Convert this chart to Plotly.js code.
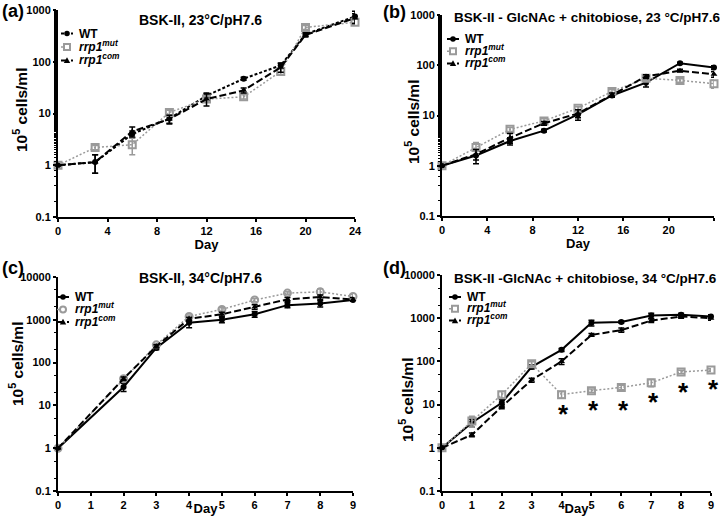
<!DOCTYPE html>
<html><head><meta charset="utf-8">
<script src="https://cdn.plot.ly/plotly-3.0.1.min.js"></script>
<style>html,body{margin:0;padding:0;background:#fff}#chart{width:720px;height:516px}</style>
</head><body><div id="chart"></div>
<script>
// ---- Data ----
const seriesNames = ["WT", "<i>rrp1</i><sup><i>mut</i></sup>", "<i>rrp1</i><sup><i>com</i></sup>"];

const daysA = [0, 3, 6, 9, 12, 15, 18, 20, 24];
const aWT  = [1, 1.15, 4, 8, 22, 47, 85, 340, 750];
const aMut = [1, 2.2, 2.5, 10.5, 19, 21, 65, 460, 580];
const aCom = [1, 1.15, 4.5, 7.8, 19, 28, 78, 330, 700];
const aWTErr  = [0, 0.45, 0.6, 1.5, 3, 3, 10, 30, 200];
const aMutErr = [0, 0.2, 0.9, 1, 2, 2, 8, 40, 60];
const aComErr = [0, 0.45, 1, 1.5, 5, 3, 15, 30, 150];

const daysB = [0, 3, 6, 9, 12, 15, 18, 21, 24];
const bWT  = [1, 1.6, 3.1, 5, 10.5, 25, 45, 110, 90];
const bMut = [1, 2.3, 5.3, 7.8, 14, 30, 55, 50, 43];
const bCom = [1, 1.7, 3.6, 7, 11, 26, 60, 78, 66];
const bWTErr  = [0, 0.5, 0.5, 0.3, 2.5, 2, 8, 5, 8];
const bMutErr = [0, 0.6, 0.5, 0.8, 1, 3, 5, 4, 8];
const bComErr = [0, 0.4, 0.8, 0.6, 2, 2, 5, 5, 8];

const daysC = [0, 2, 3, 4, 5, 6, 7, 8, 9];
const cWT  = [1, 27, 220, 850, 1000, 1350, 2200, 2400, 2900];
const cMut = [1, 42, 260, 1200, 1750, 2900, 4200, 4500, 3500];
const cCom = [1, 42, 240, 1050, 1350, 2000, 3000, 3400, 3000];
const cWTErr  = [0, 6, 20, 200, 150, 200, 300, 400, 200];
const cMutErr = [0, 4, 20, 100, 150, 250, 300, 800, 400];
const cComErr = [0, 4, 20, 100, 150, 250, 300, 400, 300];

const daysD = [0, 1, 2, 3, 4, 5, 6, 7, 8, 9];
const dWT  = [1, 3.8, 11, 75, 185, 780, 820, 1150, 1200, 1100];
const dMut = [1, 4.2, 17, 88, 17, 21, 25, 32, 57, 63];
const dCom = [1, 2, 9, 37, 100, 410, 530, 880, 1100, 1000];
const dWTErr  = [0, 0.8, 2, 8, 15, 120, 50, 150, 100, 100];
const dMutErr = [0, 1.2, 3, 10, 3, 2, 3, 6, 5, 5];
const dComErr = [0, 0.2, 1, 4, 15, 30, 60, 80, 100, 100];

const starDays = [4, 5, 6, 7, 8, 9];
const starY    = [8.4, 10.5, 10.5, 15.6, 27, 31.6];

const ticksA = [0, 4, 8, 12, 16, 20, 24];
const ticksC = [0, 1, 2, 3, 4, 5, 6, 7, 8, 9];
const yTicks4 = [0.1, 1, 10, 100, 1000];
const yTicks5 = [0.1, 1, 10, 100, 1000, 10000];

const panelLabels = ["(a)", "(b)", "(c)", "(d)"];
const titles = ["BSK-II, 23\u00B0C/pH7.6", "BSK-II - GlcNAc + chitobiose, 23 \u00B0C/pH7.6",
                "BSK-II, 34\u00B0C/pH7.6", "BSK-II -GlcNAc + chitobiose, 34 \u00B0C/pH7.6"];
const yTitle = "10<sup>5</sup> cells/ml";

// ---- Styles ----
const FONT = "Liberation Sans, Arial, sans-serif";
const GREY = "#9a9a9a";
const W = 720, H = 516;
const WT_DASH = ["3px,2px", "solid", "solid", "solid"];
const MUT_DASH = "2px,2px", COM_DASH = "7px,3px";

function tr(x, y, err, kind, panel) {
  const ax = panel === 0 ? "" : panel + 1;
  let color = "#000", dash = "solid", width = 2, marker;
  if (kind === 0) { dash = WT_DASH[panel]; marker = {symbol: "circle", size: 6, color: "#000"}; }
  if (kind === 1) { color = GREY; dash = MUT_DASH; width = 1.5;
    marker = {symbol: panel === 2 ? "circle-open" : "square-open", size: 7, color: GREY, line: {width: 2, color: GREY}}; }
  if (kind === 2) { dash = COM_DASH; marker = {symbol: "triangle-up", size: 6, color: "#000"}; }
  return {
    x: x, y: y, type: "scatter", mode: "lines+markers", name: seriesNames[kind], showlegend: false,
    xaxis: "x" + ax, yaxis: "y" + ax, cliponaxis: false,
    line: {color: color, dash: dash, width: width}, marker: marker,
    error_y: {type: "data", array: err, visible: true, color: color, thickness: 1.5, width: 3}
  };
}

const data = [
  tr(daysA, aWT, aWTErr, 0, 0), tr(daysA, aMut, aMutErr, 1, 0), tr(daysA, aCom, aComErr, 2, 0),
  tr(daysB, bWT, bWTErr, 0, 1), tr(daysB, bMut, bMutErr, 1, 1), tr(daysB, bCom, bComErr, 2, 1),
  tr(daysC, cWT, cWTErr, 0, 2), tr(daysC, cMut, cMutErr, 1, 2), tr(daysC, cCom, cComErr, 2, 2),
  tr(daysD, dWT, dWTErr, 0, 3), tr(daysD, dMut, dMutErr, 1, 3), tr(daysD, dCom, dComErr, 2, 3)
];

function xax(domain, ticks, range, anchor) {
  return {domain: domain, range: range, anchor: anchor, showline: true, linewidth: 2, linecolor: "#000",
    ticks: "outside", ticklen: 3, tickwidth: 2, tickcolor: "#000", tickvals: ticks, ticktext: ticks.map(String),
    showgrid: false, zeroline: false, tickfont: {family: FONT, size: 11, color: "#000", weight: "bold"},
    title: {text: "<b>Day</b>", font: {family: FONT, size: 13, color: "#000"}, standoff: 0}};
}
function yax(domain, ticks, anchor) {
  return {domain: domain, type: "log", range: [-1, Math.log10(ticks[ticks.length - 1])], anchor: anchor,
    showline: true, linewidth: 2, linecolor: "#000", ticks: "outside", ticklen: 3, tickwidth: 2, tickcolor: "#000",
    tickvals: ticks, ticktext: ticks.map(String), showgrid: false, zeroline: false,
    minor: {ticks: "outside", ticklen: 2, tickwidth: 1, tickcolor: "#000", showgrid: false},
    tickfont: {family: FONT, size: 11, color: "#000", weight: "bold"}};
}

const px = (a, b) => [a / W, b / W];
const py = (top, bot) => [1 - bot / H, 1 - top / H];
const PX = v => v / W, PY = v => 1 - v / H;

// placement of decorations (pixels)
const labelPos = [[0, 11], [381, 12], [0, 268], [381, 268]];
const titlePos = [[200, 20], [587, 18], [200, 278], [585, 278]];
const titleSize = [14, 13.5, 14, 13.5];
const yTitlePos = [[20, 110], [412, 122], [16, 364], [406, 400]];
const legendPos = [[61, 33.5], [447, 39], [57, 297], [449, 297]];
const legendGap = [13.5, 12.2, 12.5, 11.8];
const LEG_LEN = 12;

const annotations = [];
const shapes = [];
const ann = (text, x, y, size, extra) => annotations.push(Object.assign({text: text, x: x, y: y,
  xref: "paper", yref: "paper", xanchor: "center", yanchor: "middle", showarrow: false,
  font: {family: FONT, size: size, color: "#000"}}, extra || {}));

for (let p = 0; p < 4; p++) {
  ann("<b>" + panelLabels[p] + "</b>", PX(labelPos[p][0]), PY(labelPos[p][1]), 18, {xanchor: "left"});
  ann("<b>" + titles[p] + "</b>", PX(titlePos[p][0]), PY(titlePos[p][1]), titleSize[p]);
  ann("<b>" + yTitle + "</b>", PX(yTitlePos[p][0]), PY(yTitlePos[p][1]), 15.5, {textangle: -90});
  // legend
  for (let k = 0; k < 3; k++) {
    const x0 = legendPos[p][0], y = legendPos[p][1] + k * legendGap[p];
    const color = k === 1 ? GREY : "#000";
    const dash = k === 0 ? WT_DASH[p] : (k === 1 ? MUT_DASH : COM_DASH);
    shapes.push({type: "line", xref: "paper", yref: "paper", x0: PX(x0), x1: PX(x0 + LEG_LEN), y0: PY(y), y1: PY(y),
      line: {color: color, width: k === 1 ? 1.5 : 2, dash: dash}});
    const cx = x0 + LEG_LEN / 2;
    if (k === 0) {
      shapes.push({type: "circle", xref: "paper", yref: "paper", x0: PX(cx - 2.8), x1: PX(cx + 2.8),
        y0: PY(y + 2.8), y1: PY(y - 2.8), fillcolor: "#000", line: {width: 0}});
    } else if (k === 1) {
      shapes.push({type: p === 2 ? "circle" : "rect", xref: "paper", yref: "paper", x0: PX(cx - 3), x1: PX(cx + 3),
        y0: PY(y + 3), y1: PY(y - 3), fillcolor: "#fff", line: {width: 2, color: GREY}});
    } else {
      shapes.push({type: "path", xref: "paper", yref: "paper",
        path: "M" + PX(cx - 3.2) + "," + PY(y + 2.6) + " L" + PX(cx + 3.2) + "," + PY(y + 2.6) +
              " L" + PX(cx) + "," + PY(y - 3.2) + " Z", fillcolor: "#000", line: {width: 0}});
    }
    ann("<b>" + seriesNames[k] + "</b>", PX(x0 + LEG_LEN + 4), PY(y + (k === 0 ? 0 : -1.5)), 12, {xanchor: "left"});
  }
}

starDays.forEach((d, i) => annotations.push({text: "<b>*</b>", x: d, y: Math.log10(starY[i]), xref: "x4", yref: "y4",
  xanchor: "center", yanchor: "middle", xshift: 2, yshift: -6, showarrow: false,
  font: {family: FONT, size: 26, color: "#000"}}));

const layout = {
  width: W, height: H, margin: {l: 0, r: 0, t: 0, b: 0}, paper_bgcolor: "#fff", plot_bgcolor: "#fff",
  showlegend: false,
  xaxis: xax(px(58, 355), ticksA, [0, 24], "y"),
  yaxis: yax(py(10, 217), yTicks4, "x"),
  xaxis2: xax(px(442, 714), ticksA, [0, 24], "y2"),
  yaxis2: yax(py(15, 216), yTicks4, "x2"),
  xaxis3: xax(px(58, 353), ticksC, [0, 9], "y3"),
  yaxis3: yax(py(277, 491), yTicks5, "x3"),
  xaxis4: xax(px(442, 711), ticksC, [0, 9], "y4"),
  yaxis4: yax(py(275, 491), yTicks5, "x4"),
  annotations: annotations,
  shapes: shapes
};

Plotly.newPlot("chart", data, layout, {staticPlot: true});
</script></body></html>
